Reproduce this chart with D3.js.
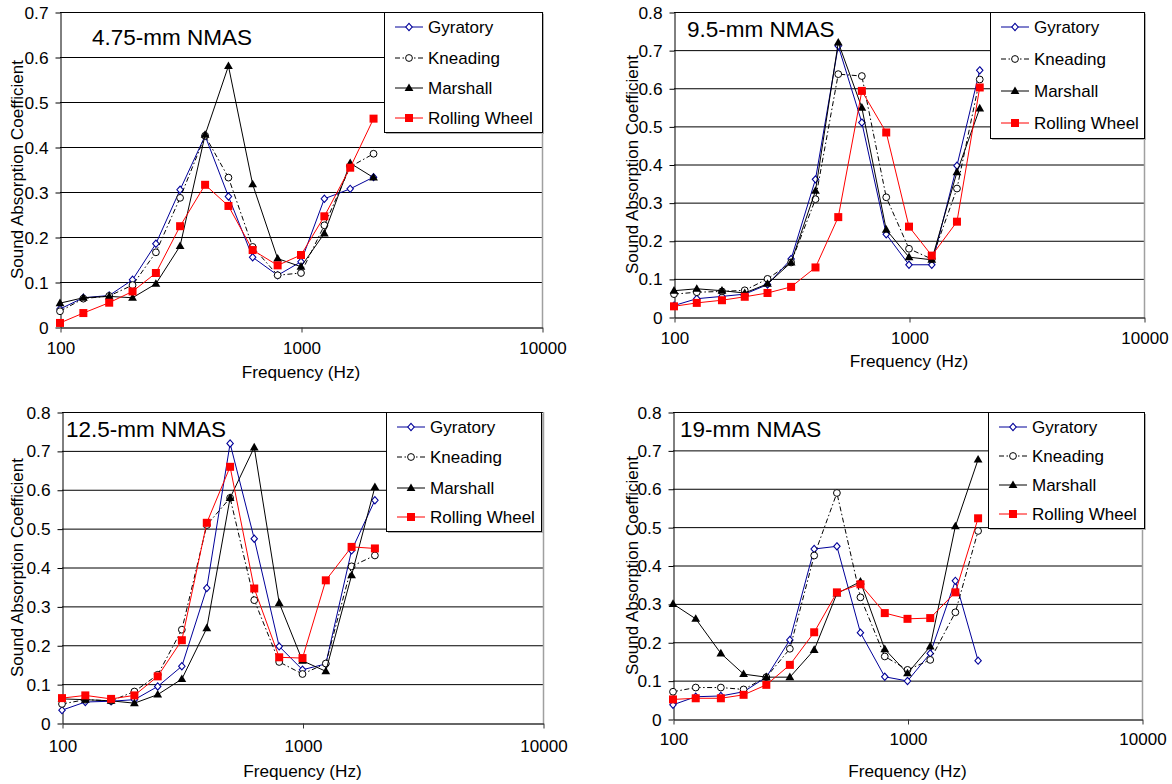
<!DOCTYPE html>
<html><head><meta charset="utf-8">
<script src="https://cdn.jsdelivr.net/npm/d3@7"></script>
<style>
html,body{margin:0;padding:0;background:#fff;}
svg{display:block;font-family:Arial,"Liberation Sans",sans-serif;}
</style></head>
<body><svg id="chart" width="1172" height="784"></svg>
<script>
const frequencies = [100,125,160,200,250,315,400,500,630,800,1000,1250,1600,2000];
const seriesNames = ["Gyratory","Kneading","Marshall","Rolling Wheel"];
const panelTitles = ["4.75-mm NMAS","9.5-mm NMAS","12.5-mm NMAS","19-mm NMAS"];
const xTickValues = [100,1000,10000];
const yMaxValues = [0.7,0.8,0.8,0.8];
const xAxisTitle = "Frequency (Hz)";
const yAxisTitle = "Sound Absorption Coefficient";

const gyratory475 = [0.040,0.065,0.070,0.105,0.185,0.305,0.425,0.290,0.155,0.115,0.145,0.285,0.307,0.333];
const kneading475 = [0.035,0.063,0.069,0.093,0.166,0.287,0.425,0.332,0.178,0.115,0.120,0.226,0.356,0.385];
const marshall475 = [0.053,0.065,0.068,0.065,0.096,0.180,0.427,0.580,0.317,0.152,0.134,0.208,0.364,0.332];
const rolling475  = [0.009,0.031,0.054,0.079,0.120,0.224,0.316,0.269,0.171,0.137,0.160,0.246,0.354,0.463];

const gyratory95 = [0.030,0.048,0.054,0.060,0.085,0.152,0.361,0.711,0.510,0.217,0.137,0.137,0.397,0.647];
const kneading95 = [0.060,0.065,0.067,0.070,0.100,0.143,0.309,0.637,0.632,0.314,0.179,0.152,0.337,0.623];
const marshall95 = [0.069,0.074,0.069,0.063,0.087,0.143,0.331,0.720,0.549,0.229,0.157,0.150,0.380,0.547];
const rolling95  = [0.028,0.037,0.044,0.053,0.063,0.079,0.130,0.262,0.593,0.484,0.237,0.161,0.250,0.602];

const gyratory125 = [0.033,0.054,0.056,0.060,0.094,0.146,0.347,0.719,0.474,0.197,0.137,0.152,0.444,0.573];
const kneading125 = [0.049,0.060,0.057,0.081,0.124,0.240,0.509,0.579,0.316,0.157,0.126,0.153,0.403,0.431];
const marshall125 = [0.062,0.060,0.057,0.051,0.073,0.113,0.244,0.579,0.709,0.309,0.160,0.133,0.380,0.607];
const rolling125  = [0.064,0.071,0.062,0.071,0.120,0.213,0.515,0.659,0.346,0.169,0.167,0.367,0.453,0.449];

const gyratory19 = [0.037,0.058,0.060,0.071,0.109,0.206,0.443,0.450,0.225,0.110,0.099,0.171,0.360,0.152];
const kneading19 = [0.071,0.082,0.082,0.077,0.109,0.183,0.426,0.589,0.317,0.163,0.128,0.154,0.278,0.490];
const marshall19 = [0.300,0.261,0.171,0.117,0.109,0.109,0.180,0.327,0.358,0.182,0.119,0.189,0.502,0.676];
const rolling19  = [0.051,0.054,0.054,0.063,0.089,0.141,0.226,0.330,0.351,0.276,0.261,0.263,0.330,0.523];

const panelData = [
  [gyratory475,kneading475,marshall475,rolling475],
  [gyratory95,kneading95,marshall95,rolling95],
  [gyratory125,kneading125,marshall125,rolling125],
  [gyratory19,kneading19,marshall19,rolling19]
];

// layout (positions only)
const layouts = [
  {x0:60,  x1:542, yT:12,  yB:327, title:[92,45],  leg:{x:384,y:12,w:158,h:120,rows:[27,58,88,118]}, xlab:353, xtitle:372, ytx:17},
  {x0:674, x1:1144,yT:12,  yB:317, title:[687,37], leg:{x:990,y:12,w:154,h:126,rows:[27,59,91,123]}, xlab:343, xtitle:361, ytx:632},
  {x0:62,  x1:543, yT:412, yB:723, title:[66,437], leg:{x:386,y:412,w:155,h:119,rows:[427,457,488,517]}, xlab:751, xtitle:771, ytx:17},
  {x0:673, x1:1142,yT:412, yB:719, title:[680,437],leg:{x:988,y:412,w:156,h:116,rows:[427,456,485,514]}, xlab:744, xtitle:771, ytx:632}
];

const styles = [
  {color:"#000099", dash:null, marker:"diamond"},
  {color:"#000000", dash:"5,2.5,1.5,2.5", marker:"circle"},
  {color:"#000000", dash:null, marker:"triangle"},
  {color:"#ff0000", dash:null, marker:"square"}
];

const FONT = "Arial, 'Liberation Sans', sans-serif";
const svg = d3.select("#chart");

function drawMarker(g, type, x, y, color){
  if(type==="diamond"){
    g.append("path").attr("d",`M${x},${y-3.6}L${x+3.2},${y}L${x},${y+3.6}L${x-3.2},${y}Z`)
      .attr("fill","#fff").attr("stroke",color).attr("stroke-width",1.1);
  } else if(type==="circle"){
    g.append("circle").attr("cx",x).attr("cy",y).attr("r",3.4)
      .attr("fill","#fff").attr("stroke",color).attr("stroke-width",1);
  } else if(type==="triangle"){
    g.append("path").attr("d",`M${x},${y-4.6}L${x+4.4},${y+3}L${x-4.4},${y+3}Z`).attr("fill",color);
  } else {
    g.append("rect").attr("x",x-4).attr("y",y-4).attr("width",8).attr("height",8).attr("fill",color);
  }
}

layouts.forEach((L,pi)=>{
  const g = svg.append("g");
  const x = d3.scaleLog().domain([100,10000]).range([L.x0,L.x1]);
  const yMax = yMaxValues[pi];
  const y = d3.scaleLinear().domain([0,yMax]).range([L.yB,L.yT]);
  const yTicks = d3.range(0, Math.round(yMax*10)+1).map(i=>i/10);

  // gridlines
  g.selectAll(".grid").data(yTicks.filter(t=>t>0)).join("line")
    .attr("x1",L.x0).attr("x2",L.x1).attr("y1",d=>y(d)+0.5).attr("y2",d=>y(d)+0.5)
    .attr("stroke","#000").attr("stroke-width",1);
  // right border
  g.append("line").attr("x1",L.x1+0.5).attr("x2",L.x1+0.5).attr("y1",L.yT).attr("y2",L.yB)
    .attr("stroke","#a0a0a0").attr("stroke-width",1.5);

  // y axis
  const ya = g.append("g").attr("transform",`translate(${L.x0+0.5},0.5)`)
    .call(d3.axisLeft(y).tickValues(yTicks).tickSize(5).tickSizeOuter(0).tickPadding(7)
      .tickFormat(d=> d===0 ? "0" : d3.format(".1f")(d)));
  ya.select(".domain").attr("stroke","#000");
  ya.selectAll(".tick line").attr("stroke","#000");
  ya.selectAll("text").attr("font-size",17.3).attr("fill","#000").attr("font-family",FONT);

  // x axis
  const xa = g.append("g").attr("transform",`translate(0.5,${L.yB+0.5})`)
    .call(d3.axisBottom(x).tickValues(xTickValues).tickSize(5).tickSizeOuter(0).tickFormat(d3.format("d")));
  xa.select(".domain").attr("stroke","#333").attr("stroke-width",1.5);
  xa.selectAll(".tick line").attr("stroke","#333");
  xa.selectAll("text").attr("font-size",17).attr("fill","#000").attr("font-family",FONT)
    .attr("y", L.xlab - L.yB - 5).attr("dy","0.35em");

  // axis titles
  g.append("text").attr("x",(L.x0+L.x1)/2).attr("y",L.xtitle).attr("dy","0.35em")
    .attr("text-anchor","middle").attr("font-size",17.2).text(xAxisTitle);
  g.append("text").attr("transform",`translate(${L.ytx},${(L.yT+L.yB)/2}) rotate(-90)`)
    .attr("dy","0.35em").attr("text-anchor","middle").attr("font-size",17).text(yAxisTitle);

  // series
  const data = panelData[pi];
  data.forEach((vals,si)=>{
    const st = styles[si];
    const pts = frequencies.map((f,i)=>[x(f),y(vals[i])]);
    g.append("path").attr("d",d3.line()(pts)).attr("fill","none")
      .attr("stroke",st.color).attr("stroke-width",1)
      .attr("stroke-dasharray",st.dash);
    const mg = g.append("g");
    pts.forEach(p=>drawMarker(mg,st.marker,p[0],p[1],st.color));
  });

  // title
  g.append("text").attr("x",L.title[0]).attr("y",L.title[1]).attr("font-size",22.5).text(panelTitles[pi]);

  // legend
  const lg = L.leg;
  g.append("rect").attr("x",lg.x+2).attr("y",lg.y+2).attr("width",lg.w).attr("height",lg.h).attr("fill","#b0b0b0");
  g.append("rect").attr("x",lg.x+0.5).attr("y",lg.y+0.5).attr("width",lg.w).attr("height",lg.h)
    .attr("fill","#fff").attr("stroke","#000").attr("stroke-width",1);
  seriesNames.forEach((nm,si)=>{
    const st = styles[si];
    const ry = lg.rows[si];
    const lx0 = lg.x+11, lx1 = lg.x+39;
    g.append("line").attr("x1",lx0).attr("x2",lx1).attr("y1",ry).attr("y2",ry)
      .attr("stroke",st.color).attr("stroke-width",1).attr("stroke-dasharray",st.dash);
    drawMarker(g,st.marker,(lx0+lx1)/2,ry,st.color);
    g.append("text").attr("x",lg.x+44).attr("y",ry).attr("dy","0.35em").attr("font-size",17).text(nm);
  });
});
</script>
</body></html>
